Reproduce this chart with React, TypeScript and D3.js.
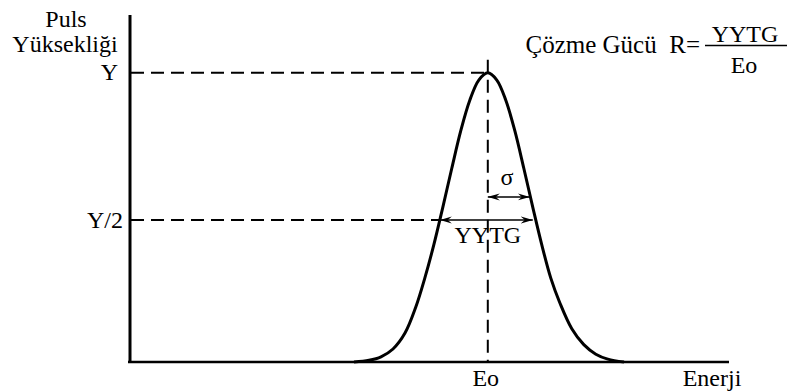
import React from "react";
import * as d3 from "d3";

const energy = [37.5, 40, 42, 44, 46, 47.8, 49.3, 50.8, 52.3, 53.8, 55.3, 56.8, 58.3, 59.8, 61.3, 62.8, 64.3, 65.8, 67.3, 68.8, 70.3, 71.8, 73.8, 75.8, 77.8, 79.8, 82.5];
const height = [0, 0.006, 0.018, 0.045, 0.1, 0.19, 0.29, 0.405, 0.535, 0.67, 0.8, 0.905, 0.975, 1.0, 0.975, 0.905, 0.8, 0.67, 0.535, 0.405, 0.29, 0.205, 0.115, 0.06, 0.027, 0.01, 0];

const peakE = 59.8;       // Eo
const halfLevel = 0.491;  // Y/2 line
const halfLeft = 51.8;    // FWHM left crossing
const halfRight = 67.3;   // FWHM right crossing
const sigmaEnd = 66.8;    // sigma arrow end
const sigmaLevel = 0.571; // height of sigma arrow
const yTickLabels = ["Y", "Y/2"];
const yTickValues = [1, halfLevel];

const W = 790, H = 392;
const FONT = "Liberation Serif";

export default function App() {
  const x = d3.scaleLinear().domain([0, 100]).range([129, 729]);
  const y = d3.scaleLinear().domain([0, 1.2]).range([362, 15]);
  const pts: [number, number][] = energy.map((e, i) => [e, height[i]]);
  const line = d3.line<[number, number]>().x(d => x(d[0])).y(d => y(d[1])).curve(d3.curveCatmullRom.alpha(0.5));
  const dash = "13 7";
  const ts: React.CSSProperties = { fontFamily: FONT, fontSize: 24, whiteSpace: "pre" };
  return (
    <svg width={W} height={H} style={{ position: "absolute", left: 0, top: 0, background: "#fff" }}>
      <defs>
        <marker id="ah" viewBox="0 -4 12 8" refX="12" refY="0" markerWidth="12" markerHeight="8" markerUnits="userSpaceOnUse" orient="auto-start-reverse">
          <path d="M0,-3.5L12,0L0,3.5L4,0Z" fill="#000" />
        </marker>
      </defs>
      {/* axes */}
      <line x1={x(0) + 1} x2={x(0) + 1} y1={y(1.2)} y2={y(0) + 1} stroke="#000" strokeWidth={3} />
      <line x1={x(0) - 1} x2={x(100)} y1={y(0)} y2={y(0)} stroke="#000" strokeWidth={2.5} />
      {/* dashed guides */}
      <line x1={x(0) + 2} x2={x(peakE)} y1={y(1)} y2={y(1)} stroke="#000" strokeWidth={2} strokeDasharray={dash} />
      <line x1={x(0) + 2} x2={x(halfLeft)} y1={y(halfLevel)} y2={y(halfLevel)} stroke="#000" strokeWidth={2} strokeDasharray={dash} />
      <line x1={x(peakE)} x2={x(peakE)} y1={y(1.045)} y2={y(0)} stroke="#000" strokeWidth={2} strokeDasharray={dash} />
      {/* curve */}
      <path d={line(pts) || ""} fill="none" stroke="#000" strokeWidth={3} />
      {/* arrows */}
      <line x1={x(halfLeft)} x2={x(halfRight)} y1={y(halfLevel)} y2={y(halfLevel)} stroke="#000" strokeWidth={1.5} markerStart="url(#ah)" markerEnd="url(#ah)" />
      <line x1={x(peakE)} x2={x(sigmaEnd)} y1={y(sigmaLevel)} y2={y(sigmaLevel)} stroke="#000" strokeWidth={1.5} markerStart="url(#ah)" markerEnd="url(#ah)" />
      {/* labels */}
      <text x={118} y={80} textAnchor="end" style={ts}>{yTickLabels[0]}</text>
      <text x={123} y={y(yTickValues[1]) + 8} textAnchor="end" style={ts}>{yTickLabels[1]}</text>
      <text x={66} y={27} textAnchor="middle" style={ts}>Puls</text>
      <text x={65} y={52} textAnchor="middle" style={ts}>Yüksekliği</text>
      <text x={507} y={185} textAnchor="middle" style={ts}>σ</text>
      <text x={x(peakE)} y={243} textAnchor="middle" style={ts}>YYTG</text>
      <text x={x(peakE) - 2} y={386} textAnchor="middle" style={ts}>Eo</text>
      <text x={712} y={386} textAnchor="middle" style={ts}>Enerji</text>
      <text x={700} y={53} textAnchor="end" style={{ ...ts, fontSize: 25 }}>Çözme Gücü  R=</text>
      <text x={745} y={42} textAnchor="middle" style={ts}>YYTG</text>
      <line x1={705} x2={787} y1={45.5} y2={45.5} stroke="#000" strokeWidth={1.5} />
      <text x={744} y={73} textAnchor="middle" style={ts}>Eo</text>
    </svg>
  );
}
